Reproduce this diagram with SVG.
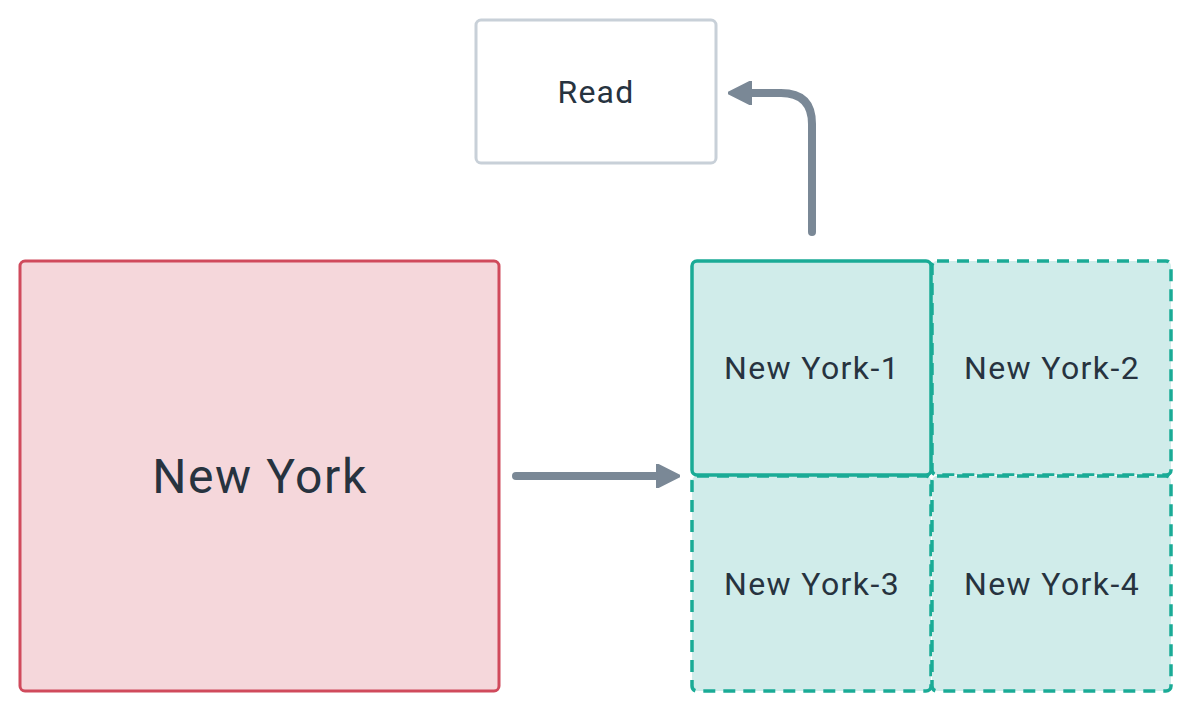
<svg xmlns="http://www.w3.org/2000/svg" width="1192" height="712" viewBox="0 0 1192 712">
<style>
text{font-family:Roboto,"DejaVu Sans",sans-serif;fill:#27333f;text-anchor:middle;dominant-baseline:central}
.cell{fill:#d0ecea;stroke:#1aab96;stroke-width:3.5}
.dash{stroke-dasharray:12 8}
.lbl{font-size:32px;letter-spacing:1.4px}
.conn{fill:none;stroke:#7a8896;stroke-width:8;stroke-linecap:round;stroke-linejoin:round}
</style>
<defs>
<marker id="ah" viewBox="0 0 10 10" refX="5" refY="5" markerWidth="3" markerHeight="3" orient="auto" markerUnits="strokeWidth">
<path d="M0,0 L10,5 L0,10 z" fill="#7a8896" stroke="#7a8896" stroke-linejoin="round"/>
</marker>
</defs>
<rect width="1192" height="712" fill="#ffffff"/>
<g id="read">
<rect x="476" y="20" width="240" height="143" rx="5" fill="#ffffff" stroke="#c8d0d8" stroke-width="3"/>
<text x="596" y="92" font-size="32" letter-spacing="1.2">Read</text>
</g>
<g id="newyork">
<rect x="20" y="261" width="479" height="430" rx="5" fill="#f5d7db" stroke="#d04a5c" stroke-width="3"/>
<text x="260" y="476" font-size="48" letter-spacing="1.6">New York</text>
</g>
<g id="ny2">
<rect class="cell dash" x="932" y="261" width="239" height="214" rx="5"/>
<text class="lbl" x="1052" y="368">New York-2</text>
</g>
<g id="ny3">
<rect class="cell dash" x="692" y="476" width="239" height="215" rx="5"/>
<text class="lbl" x="812" y="584">New York-3</text>
</g>
<g id="ny4">
<rect class="cell dash" x="932" y="476" width="239" height="215" rx="5"/>
<text class="lbl" x="1052" y="584">New York-4</text>
</g>
<g id="ny1">
<rect class="cell" x="692" y="261" width="239" height="214" rx="5"/>
<text class="lbl" x="812" y="368">New York-1</text>
</g>
<g id="connectors">
<path class="conn" d="M516,476 L668,476" marker-end="url(#ah)"/>
<path class="conn" d="M812,232 L812,124 Q812,93 781,93 L740,93" marker-end="url(#ah)"/>
</g>
</svg>
